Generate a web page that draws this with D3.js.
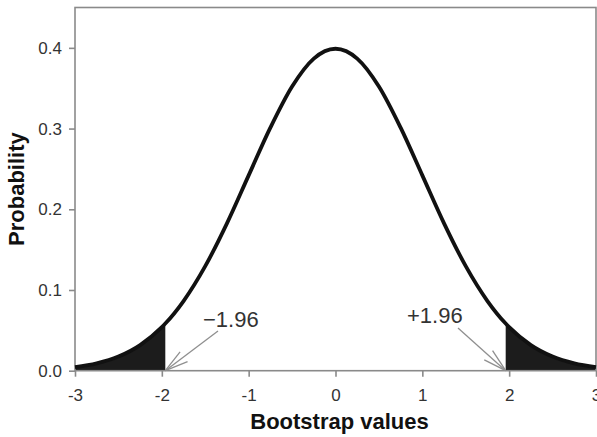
<!DOCTYPE html>
<html>
<head>
<meta charset="utf-8">
<script src="https://cdn.jsdelivr.net/npm/d3@7"></script>
<style>
  html, body { margin: 0; padding: 0; background: #fff; }
  svg { display: block; font-family: "Liberation Sans", Arial, sans-serif; }
</style>
</head>
<body>
<svg id="chart" width="597" height="437"></svg>
<script>
// Standard normal density of the bootstrap values, sampled along x
const xValues = [-3, -2.75, -2.5, -2.25, -2, -1.96, -1.75, -1.5, -1.25, -1, -0.75, -0.5, -0.25,
                 0, 0.25, 0.5, 0.75, 1, 1.25, 1.5, 1.75, 1.96, 2, 2.25, 2.5, 2.75, 3];
const densities = [0.0044, 0.0091, 0.0175, 0.0317, 0.0540, 0.0584, 0.0863, 0.1295, 0.1826, 0.2420, 0.3011, 0.3521, 0.3867,
                   0.3989, 0.3867, 0.3521, 0.3011, 0.2420, 0.1826, 0.1295, 0.0863, 0.0584, 0.0540, 0.0317, 0.0175, 0.0091, 0.0044];

// Critical values bounding the shaded tails
const criticalValues = [-1.96, 1.96];
const criticalLabels = ["\u22121.96", "+1.96"];

const xTicks = [-3, -2, -1, 0, 1, 2, 3];
const xTickLabels = ["-3", "-2", "-1", "0", "1", "2", "3"];
const yTicks = [0, 0.1, 0.2, 0.3, 0.4];
const yTickLabels = ["0.0", "0.1", "0.2", "0.3", "0.4"];

const points = xValues.map((x, i) => ({ x, y: densities[i] }));

const svg = d3.select("#chart");
const plotLeft = 75, plotRight = 596, plotTop = 7.5, plotBottom = 370.7;

const x = d3.scaleLinear().domain([-3, 3]).range([plotLeft, plotRight]);
const y = d3.scaleLinear().domain([0, 0.45]).range([plotBottom, plotTop]);

const axisColor = "#8a8a8a";
const textColor = "#333";

// Shaded tails
const area = d3.area().x(d => x(d.x)).y0(y(0)).y1(d => y(d.y)).curve(d3.curveMonotoneX);
svg.append("path")
  .datum(points.filter(d => d.x <= criticalValues[0]))
  .attr("d", area).attr("fill", "#1c1c1c");
svg.append("path")
  .datum(points.filter(d => d.x >= criticalValues[1]))
  .attr("d", area).attr("fill", "#1c1c1c");

// Frame
svg.append("rect")
  .attr("x", plotLeft).attr("y", plotTop)
  .attr("width", plotRight - plotLeft).attr("height", plotBottom - plotTop)
  .attr("fill", "none").attr("stroke", axisColor).attr("stroke-width", 1.6);

// Axes
const xAxis = svg.append("g")
  .attr("transform", `translate(0,${plotBottom})`)
  .call(d3.axisBottom(x).tickValues(xTicks).tickSize(6).tickPadding(12)
    .tickFormat((d, i) => xTickLabels[i]));
const yAxis = svg.append("g")
  .attr("transform", `translate(${plotLeft},0)`)
  .call(d3.axisLeft(y).tickValues(yTicks).tickSize(6).tickPadding(7)
    .tickFormat((d, i) => yTickLabels[i]));
[xAxis, yAxis].forEach(g => {
  g.select(".domain").remove();
  g.selectAll("line").attr("stroke", axisColor).attr("stroke-width", 1.6);
  g.selectAll("text").attr("fill", textColor).style("font-size", "17px")
    .style("font-family", "'Liberation Sans', Arial, sans-serif");
});

// Density curve
const line = d3.line().x(d => x(d.x)).y(d => y(d.y)).curve(d3.curveMonotoneX);
svg.append("path")
  .datum(points)
  .attr("d", line)
  .attr("fill", "none")
  .attr("stroke", "#111")
  .attr("stroke-width", 3.8)
  .attr("stroke-linejoin", "round");

// Annotation arrows pointing at the critical values
const tails = [[218, 331], [458, 328]];
const labelPos = [[203, 327], [407, 323]];
criticalValues.forEach((cv, i) => {
  const tipX = x(cv), tipY = y(0);
  const [tx, ty] = tails[i];
  const g = svg.append("g").attr("stroke", "#8f8f8f").attr("stroke-width", 1.3).attr("fill", "none");
  g.append("line").attr("x1", tx).attr("y1", ty).attr("x2", tipX).attr("y2", tipY);
  const ang = Math.atan2(ty - tipY, tx - tipX);
  const len = 24, spread = 15 * Math.PI / 180;
  [-spread, spread].forEach(s => {
    g.append("line")
      .attr("x1", tipX).attr("y1", tipY)
      .attr("x2", tipX + len * Math.cos(ang + s))
      .attr("y2", tipY + len * Math.sin(ang + s));
  });
  svg.append("text")
    .attr("x", labelPos[i][0]).attr("y", labelPos[i][1])
    .attr("fill", textColor).style("font-size", "22px")
    .text(criticalLabels[i]);
});

// Axis titles
svg.append("text")
  .attr("x", (plotLeft + plotRight) / 2 + 4).attr("y", 429)
  .attr("text-anchor", "middle")
  .style("font-size", "22px").style("font-weight", "bold").attr("fill", "#111")
  .text("Bootstrap values");
svg.append("text")
  .attr("transform", `translate(24,${(plotTop + plotBottom) / 2}) rotate(-90)`)
  .attr("text-anchor", "middle")
  .style("font-size", "22px").style("font-weight", "bold").attr("fill", "#111")
  .text("Probability");
</script>
</body>
</html>
